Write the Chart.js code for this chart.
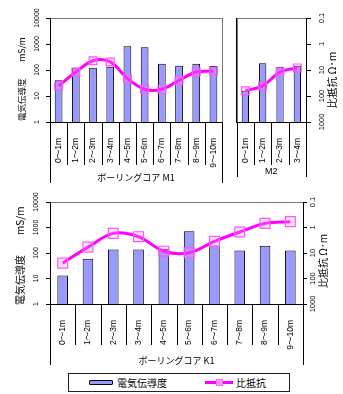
<!DOCTYPE html>
<html>
<head>
<meta charset="utf-8">
<script src="https://cdn.jsdelivr.net/npm/chart.js@4.4.1/dist/chart.umd.min.js"></script>
<style>
  html, body { margin: 0; padding: 0; background: #fff; }
  body { position: relative; width: 343px; height: 394px; overflow: hidden;
         font-family: "Liberation Sans", "Noto Sans CJK JP", sans-serif; }
  canvas { position: absolute; }
  #legend { position: absolute; left: 68px; top: 373px; width: 220px; height: 17px;
            border: 1px solid #222; background: #fff; }
  #legend .sw-bar { position: absolute; left: 20px; top: 6px; width: 22px; height: 3px;
                    border: 1px solid #000; background: #9999ff; border-radius: 1px; }
  #legend .sw-line { position: absolute; left: 136px; top: 7px; width: 28px; height: 3px; background: #ff00ff; }
  #legend .sw-mark { position: absolute; left: 147px; top: 5px; width: 5px; height: 5px;
                     border: 1px solid #ff66ff; background: #ff99ff; }
  #legend .txt { position: absolute; top: 0; line-height: 18px; font-size: 10px; color: #000;
                 font-family: "Noto Sans CJK JP", sans-serif; }
</style>
</head>
<body>
<canvas id="cM1" width="232" height="192" style="left:0;top:0"></canvas>
<canvas id="cM2" width="113" height="192" style="left:230px;top:0"></canvas>
<canvas id="cK1" width="343" height="180" style="left:0;top:190px"></canvas>
<div id="legend">
  <div class="sw-bar"></div><div class="txt" style="left:48px">電気伝導度</div>
  <div class="sw-line"></div><div class="sw-mark"></div><div class="txt" style="left:167px">比抵抗</div>
</div>
<script>
// depth intervals of each boring core
const depthM1 = ['0～1m', '1～2m', '2～3m', '3～4m', '4～5m', '5～6m', '6～7m', '7～8m', '8～9m', '9～10m'];
const depthM2 = ['0～1m', '1～2m', '2～3m', '3～4m'];
const depthK1 = ['0～1m', '1～2m', '2～3m', '3～4m', '4～5m', '5～6m', '6～7m', '7～8m', '8～9m', '9～10m'];

// electrical conductivity (mS/m)
const condM1 = [40, 123, 123, 134, 815, 745, 175, 147, 175, 142];
const condM2 = [16, 181, 134, 147];
const condK1 = [13, 59, 138, 138, 147, 720, 198, 126, 191, 126];

// resistivity (Ω·m)
const resM1 = [41, 12, 4.4, 4.9, 21, 55, 55, 25, 12, 11];
const resM2 = [63, 41, 12, 8.3];
const resK1 = [25, 5.9, 1.7, 2.3, 8.5, 9.8, 3.5, 1.5, 0.69, 0.59];

// axis ticks
const condTicks = [1, 10, 100, 1000, 10000];
const resTicks = [0.1, 1, 10, 100, 1000];

const groupNames = ['ボーリングコア M1', 'M2', 'ボーリングコア K1'];
const condTitle = '電気伝導度　　mS/m';
const resTitle = '比抵抗 Ω･m';
const seriesNames = ['電気伝導度', '比抵抗'];

const LATIN = '"Liberation Sans", "Noto Sans CJK JP", sans-serif';
const CJK = '"Noto Sans CJK JP", sans-serif';
Chart.defaults.font.family = LATIN;
Chart.defaults.color = '#000';

// frame around the plot area, category dividers, group caption, rotated value labels and axis titles
const decor = {
  id: 'decor',
  beforeDraw(chart) {
    const { ctx, chartArea: a } = chart;
    ctx.save();
    ctx.strokeStyle = '#777';
    ctx.lineWidth = 1;
    ctx.strokeRect(Math.round(a.left) + 0.5, Math.round(a.top) + 0.5,
                   Math.round(a.right - a.left), Math.round(a.bottom - a.top));
    ctx.restore();
  },
  afterDraw(chart, args, o) {
    const { ctx, chartArea: a, scales } = chart;
    const xs = scales.x;
    const n = chart.data.labels.length;
    ctx.save();
    ctx.strokeStyle = '#000';
    ctx.lineWidth = 1;
    ctx.beginPath();
    for (let i = 1; i < n; i++) {
      const px = Math.round((xs.getPixelForValue(i - 1) + xs.getPixelForValue(i)) / 2) + 0.5;
      ctx.moveTo(px, a.bottom);
      ctx.lineTo(px, a.bottom + o.innerLen);
    }
    [a.left, a.right].forEach(e => {
      const px = Math.round(e) + 0.5;
      ctx.moveTo(px, a.bottom);
      ctx.lineTo(px, a.bottom + o.outerLen);
    });
    ctx.stroke();

    ctx.fillStyle = '#000';
    ctx.font = o.groupFont;
    ctx.textAlign = 'center';
    ctx.textBaseline = 'middle';
    ctx.fillText(o.group, (a.left + a.right) / 2, a.bottom + o.groupOffset);

    // value labels along the log axes, turned to read upward
    (o.tickLabels || []).forEach(t => {
      const s = scales[t.scale];
      s.ticks.forEach(tk => {
        ctx.save();
        ctx.translate(t.x, s.getPixelForValue(tk.value));
        ctx.rotate(-Math.PI / 2);
        ctx.font = t.font;
        ctx.textAlign = 'center';
        ctx.textBaseline = 'middle';
        ctx.fillText(String(tk.value), 0, 0);
        ctx.restore();
      });
    });

    (o.titles || []).forEach(t => {
      const s = scales[t.scale];
      ctx.save();
      const y = t.anchor === 'start' ? s.bottom + t.dy : (s.top + s.bottom) / 2 + t.dy;
      ctx.translate(t.x, y);
      ctx.rotate(-Math.PI / 2);
      ctx.font = t.font;
      ctx.textAlign = t.anchor === 'start' ? 'left' : 'center';
      ctx.textBaseline = 'middle';
      ctx.fillText(t.text, 0, 0);
      ctx.restore();
    });
    ctx.restore();
  }
};

function logAxis(values, extra) {
  return Object.assign({
    type: 'logarithmic',
    min: values[0],
    max: values[values.length - 1],
    afterBuildTicks: s => { s.ticks = values.map(v => ({ value: v })); },
    border: { color: '#000', width: 1 },
  }, extra);
}

function build(id, p) {
  return new Chart(document.getElementById(id), {
    type: 'bar',
    data: {
      labels: p.labels,
      datasets: [
        {
          type: 'line', label: seriesNames[1], data: p.res, yAxisID: 'yRes', order: 0,
          borderColor: '#ff00ff', borderWidth: 3, tension: 0.35, clip: false,
          pointStyle: 'rect', pointRadius: p.mark, pointBorderColor: '#ff55ff', pointBorderWidth: 1.2,
          pointBackgroundColor: 'rgba(255,150,255,0.25)'
        },
        {
          type: 'bar', label: seriesNames[0], data: p.cond, yAxisID: 'y', order: 1,
          backgroundColor: '#9999ff', borderColor: '#000', borderWidth: 1,
          barPercentage: p.barPct, categoryPercentage: 1
        }
      ]
    },
    options: {
      responsive: false,
      devicePixelRatio: 1,
      animation: false,
      events: [],
      layout: { padding: p.padding },
      plugins: {
        legend: { display: false },
        tooltip: { enabled: false },
        decor: p.decor
      },
      scales: {
        x: {
          type: 'category', offset: true,
          grid: { display: false },
          border: { color: '#000', width: 1 },
          ticks: { autoSkip: false, minRotation: 90, maxRotation: 90, padding: 8,
                   font: { size: 8.5, family: LATIN } },
          afterFit: s => { s.height = p.xHeight; }
        },
        y: logAxis(condTicks, p.yAxis),
        yRes: logAxis(resTicks, p.rAxis)
      }
    },
    plugins: [decor]
  });
}

const leftAxis = (w) => ({
  position: 'left',
  grid: { drawOnChartArea: false, tickLength: 4, color: '#000' },
  ticks: { display: false },
  afterFit: s => { s.width = w; }
});
const rightAxis = (w, tl) => ({
  position: 'right', reverse: true,
  grid: { drawOnChartArea: false, tickLength: tl, color: '#000' },
  ticks: { display: false },
  afterFit: s => { s.width = w; }
});

// core M1
build('cM1', {
  labels: depthM1, cond: condM1, res: resM1, mark: 5.5, barPct: 0.45,
  padding: { top: 18, right: 5, left: 0, bottom: 0 },
  xHeight: 70,
  yAxis: leftAxis(50),
  rAxis: { position: 'right', reverse: true, display: false },
  decor: {
    innerLen: 43, outerLen: 61, groupOffset: 56, group: groupNames[0],
    groupFont: '9px ' + CJK,
    tickLabels: [{ scale: 'y', x: 37, font: '7px ' + LATIN }],
    titles: [{ scale: 'y', x: 22, anchor: 'start', dy: -1, text: condTitle, font: '8.5px ' + CJK }]
  }
});

// core M2
build('cM2', {
  labels: depthM2, cond: condM2, res: resM2, mark: 5.5, barPct: 0.42,
  padding: { top: 18, right: 0, left: 0, bottom: 0 },
  xHeight: 70,
  yAxis: {
    position: 'left',
    grid: { display: false },
    ticks: { display: false },
    afterFit: s => { s.width = 6; }
  },
  rAxis: rightAxis(37, 5),
  decor: {
    innerLen: 43, outerLen: 55, groupOffset: 50, group: groupNames[1],
    groupFont: '9px ' + LATIN,
    tickLabels: [{ scale: 'yRes', x: 92, font: '7.5px ' + LATIN }],
    titles: [{ scale: 'yRes', x: 102, anchor: 'center', dy: 10, text: resTitle, font: '10.5px ' + CJK }]
  }
});

// core K1
build('cK1', {
  labels: depthK1, cond: condK1, res: resK1, mark: 7, barPct: 0.42,
  padding: { top: 12, right: 0, left: 0, bottom: 0 },
  xHeight: 66,
  yAxis: leftAxis(50),
  rAxis: rightAxis(40, 4),
  decor: {
    innerLen: 41, outerLen: 61, groupOffset: 57, group: groupNames[2],
    groupFont: '9px ' + CJK,
    tickLabels: [
      { scale: 'y', x: 36, font: '7px ' + LATIN },
      { scale: 'yRes', x: 313, font: '7.5px ' + LATIN }
    ],
    titles: [
      { scale: 'y', x: 20, anchor: 'start', dy: 1, text: condTitle, font: '10px ' + CJK },
      { scale: 'yRes', x: 323, anchor: 'center', dy: 8, text: resTitle, font: '10px ' + CJK }
    ]
  }
});
</script>
</body>
</html>
